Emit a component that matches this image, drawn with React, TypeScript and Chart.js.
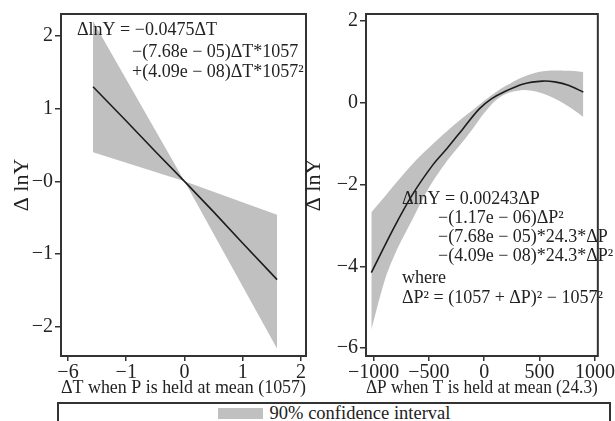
import { useEffect, useRef } from "react";
import { Chart, registerables } from "chart.js";

Chart.register(...registerables);

// ---------- Left panel data (ΔT) ----------
const leftLineT = [-1.57, -1, -0.5, 0, 0.5, 1, 1.59];
const leftLineY = [1.3, 0.83, 0.41, 0, -0.42, -0.85, -1.35];
const leftBandT = [-1.57, 0, 1.59];
const leftBandUpper = [2.2, 0, -0.46];
const leftBandLower = [0.4, 0, -2.3];
const leftXTickValues = [-2, -1, 0, 1, 2];
const leftXTickLabels = ["−6", "−1", "0", "1", "2"];
const leftYTickValues = [2, 1, 0, -1, -2];
const leftYTickLabels = ["2", "1", "−0", "−1", "−2"];

// ---------- Right panel data (ΔP) ----------
const rightLineP = [-1020, -821, -650, -459, -331, -188, -45, 68, 182, 353, 524, 638, 760, 895];
const rightLineY = [-4.15, -3.08, -2.25, -1.5, -1.1, -0.62, -0.15, 0.1, 0.27, 0.46, 0.53, 0.51, 0.43, 0.26];
const rightBandP = [-1020, -900, -800, -650, -500, -330, -200, -100, 0, 100, 200, 350, 500, 640, 780, 895];
const rightBandUpper = [-2.68, -2.3, -1.97, -1.5, -1.1, -0.68, -0.38, -0.17, 0.05, 0.25, 0.42, 0.63, 0.76, 0.79, 0.78, 0.75];
const rightBandLower = [-5.55, -4.35, -3.66, -2.86, -2.08, -1.4, -0.97, -0.62, -0.25, 0.05, 0.22, 0.31, 0.25, 0.1, -0.12, -0.35];
const rightXTickValues = [-1000, -500, 0, 500, 1000];
const rightXTickLabels = ["−1000", "−500", "0", "500", "1000"];
const rightYTickValues = [2, 0, -2, -4, -6];
const rightYTickLabels = ["2", "0", "−2", "−4", "−6"];

// ---------- Texts ----------
const leftXTitle = "ΔT when P is held at mean (1057)";
const rightXTitle = "ΔP when T is held at mean (24.3)";
const yTitle = "Δ lnY";
const legendLabel = "90% confidence interval";
const leftEquation = [
  "ΔlnY = −0.0475ΔT",
  "−(7.68e − 05)ΔT*1057",
  "+(4.09e − 08)ΔT*1057²",
];
const rightEquation = [
  "ΔlnY = 0.00243ΔP",
  "−(1.17e − 06)ΔP²",
  "−(7.68e − 05)*24.3*ΔP",
  "−(4.09e − 08)*24.3*ΔP²",
  "where",
  "ΔP² = (1057 + ΔP)² − 1057²",
];

const FONT = '"Liberation Serif", "Times New Roman", serif';
const TEXT = "#222";
const FRAME = "#333";
const BAND = "rgb(192,192,192)";
const LINE = "#1c1c1c";

type TextPos = { text: string; dx: number; dy: number };

const leftTextPos: TextPos[] = [
  { text: leftEquation[0], dx: 16, dy: 16 },
  { text: leftEquation[1], dx: 71, dy: 38 },
  { text: leftEquation[2], dx: 71, dy: 58 },
];
const rightTextPos: TextPos[] = [
  { text: rightEquation[0], dx: 36, dy: 185 },
  { text: rightEquation[1], dx: 72, dy: 204 },
  { text: rightEquation[2], dx: 72, dy: 223 },
  { text: rightEquation[3], dx: 72, dy: 242 },
  { text: rightEquation[4], dx: 36, dy: 264 },
  { text: rightEquation[5], dx: 36, dy: 284 },
];

function zip(xs: number[], ys: number[]) {
  return xs.map((x, i) => ({ x, y: ys[i] }));
}

function framePlugin(texts: TextPos[]) {
  return {
    id: "frameAndText",
    afterDatasetsDraw(chart: any) {
      const { ctx, chartArea } = chart;
      ctx.save();
      ctx.fillStyle = TEXT;
      ctx.font = `18px ${FONT}`;
      ctx.textBaseline = "middle";
      ctx.textAlign = "left";
      texts.forEach((t) => {
        ctx.fillText(t.text, chartArea.left + t.dx, chartArea.top + t.dy);
      });
      ctx.strokeStyle = FRAME;
      ctx.lineWidth = 2;
      ctx.strokeRect(
        chartArea.left,
        chartArea.top,
        chartArea.right - chartArea.left,
        chartArea.bottom - chartArea.top
      );
      ctx.restore();
    },
  };
}

type PanelCfg = {
  line: { x: number; y: number }[];
  upper: { x: number; y: number }[];
  lower: { x: number; y: number }[];
  tension: number;
  xMin: number;
  xMax: number;
  yMin: number;
  yMax: number;
  xTicks: number[];
  xLabels: string[];
  yTicks: number[];
  yLabels: string[];
  xTitle: string;
  yAxisWidth: number;
  yTitlePad: number;
  texts: TextPos[];
};

function buildChart(canvas: HTMLCanvasElement, c: PanelCfg) {
  const grid = {
    drawOnChartArea: false,
    drawTicks: true,
    tickLength: 6,
    color: FRAME,
    lineWidth: 1.5,
  };
  return new Chart(canvas, {
    type: "line",
    data: {
      datasets: [
        {
          data: c.line,
          borderColor: LINE,
          borderWidth: 1.6,
          pointRadius: 0,
          fill: false,
          tension: c.tension,
        },
        {
          data: c.upper,
          borderWidth: 0,
          borderColor: "rgba(0,0,0,0)",
          backgroundColor: BAND,
          pointRadius: 0,
          fill: "+1",
          tension: c.tension,
        },
        {
          data: c.lower,
          borderWidth: 0,
          borderColor: "rgba(0,0,0,0)",
          pointRadius: 0,
          fill: false,
          tension: c.tension,
        },
      ],
    } as any,
    options: {
      animation: false,
      responsive: false,
      devicePixelRatio: 1,
      layout: { padding: { left: 0, top: 12, right: 4, bottom: 0 } },
      plugins: { legend: { display: false }, tooltip: { enabled: false } },
      scales: {
        x: {
          type: "linear",
          min: c.xMin,
          max: c.xMax,
          afterFit: (s: any) => {
            s.height = 44;
          },
          afterBuildTicks: (s: any) => {
            s.ticks = c.xTicks.map((v) => ({ value: v }));
          },
          ticks: {
            autoSkip: false,
            maxRotation: 0,
            padding: 0,
            color: TEXT,
            font: { family: FONT, size: 20 },
            callback: (v: any) => {
              const i = c.xTicks.indexOf(Number(v));
              return i >= 0 ? c.xLabels[i] : "";
            },
          },
          grid: { ...grid, tickLength: 5 },
          border: { display: false },
          title: {
            display: true,
            text: c.xTitle,
            color: TEXT,
            font: { family: FONT, size: 18 },
            padding: { top: 0, bottom: 1 },
          },
        },
        y: {
          type: "linear",
          min: c.yMin,
          max: c.yMax,
          afterFit: (s: any) => {
            s.width = c.yAxisWidth;
          },
          afterBuildTicks: (s: any) => {
            s.ticks = c.yTicks.map((v) => ({ value: v }));
          },
          ticks: {
            autoSkip: false,
            padding: 2,
            color: TEXT,
            font: { family: FONT, size: 20 },
            callback: (v: any) => {
              const i = c.yTicks.indexOf(Number(v));
              return i >= 0 ? c.yLabels[i] : "";
            },
          },
          grid,
          border: { display: false },
          title: {
            display: true,
            text: yTitle,
            color: TEXT,
            font: { family: FONT, size: 22 },
            padding: { top: c.yTitlePad, bottom: 0 },
          },
        },
      },
    } as any,
    plugins: [framePlugin(c.texts)],
  });
}

export default function App() {
  const leftRef = useRef<HTMLCanvasElement>(null);
  const rightRef = useRef<HTMLCanvasElement>(null);

  useEffect(() => {
    const left = buildChart(leftRef.current!, {
      line: zip(leftLineT, leftLineY),
      upper: zip(leftBandT, leftBandUpper),
      lower: zip(leftBandT, leftBandLower),
      tension: 0,
      xMin: -2.12,
      xMax: 2.086,
      yMin: -2.4,
      yMax: 2.3,
      xTicks: leftXTickValues,
      xLabels: leftXTickLabels,
      yTicks: leftYTickValues,
      yLabels: leftYTickLabels,
      xTitle: leftXTitle,
      yAxisWidth: 61,
      yTitlePad: 9,
      texts: leftTextPos,
    });
    const right = buildChart(rightRef.current!, {
      line: zip(rightLineP, rightLineY),
      upper: zip(rightBandP, rightBandUpper),
      lower: zip(rightBandP, rightBandLower),
      tension: 0.3,
      xMin: -1068,
      xMax: 1026,
      yMin: -6.19,
      yMax: 2.17,
      xTicks: rightXTickValues,
      xLabels: rightXTickLabels,
      yTicks: rightYTickValues,
      yLabels: rightYTickLabels,
      xTitle: rightXTitle,
      yAxisWidth: 71,
      yTitlePad: 6,
      texts: rightTextPos,
    });
    return () => {
      left.destroy();
      right.destroy();
    };
  }, []);

  return (
    <div
      style={{
        position: "absolute",
        left: 0,
        top: 0,
        width: 615,
        height: 421,
        overflow: "hidden",
        background: "#fff",
        fontFamily: FONT,
      }}
    >
      <canvas
        ref={leftRef}
        width={310}
        height={400}
        style={{ position: "absolute", left: 0, top: 0, width: 310, height: 400 }}
      />
      <canvas
        ref={rightRef}
        width={320}
        height={400}
        style={{ position: "absolute", left: 295, top: 0, width: 320, height: 400 }}
      />
      <div
        style={{
          position: "absolute",
          left: 57,
          top: 402,
          width: 554,
          height: 40,
          boxSizing: "border-box",
          border: `2px solid ${FRAME}`,
        }}
      >
        <div
          style={{
            height: 18,
            display: "flex",
            alignItems: "center",
            justifyContent: "center",
            gap: 7,
            color: TEXT,
            fontSize: 18.5,
            lineHeight: "18px",
          }}
        >
          <span style={{ display: "inline-block", width: 45, height: 11, background: BAND }} />
          <span>{legendLabel}</span>
        </div>
      </div>
    </div>
  );
}
